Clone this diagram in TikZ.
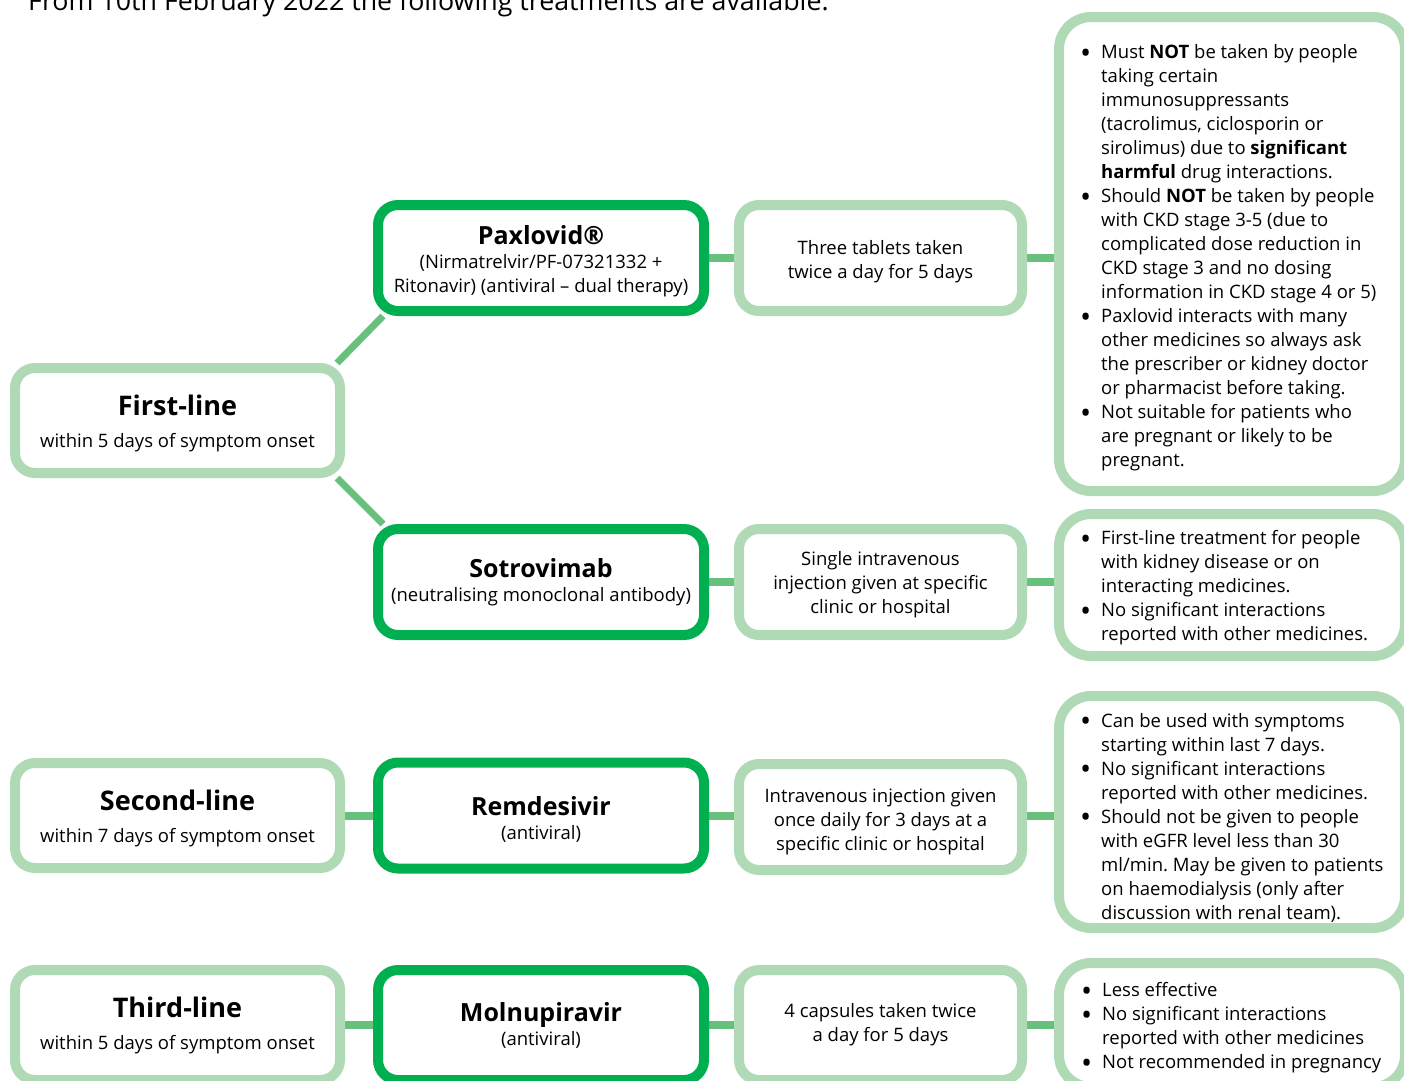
\documentclass[tikz,border=0pt]{standalone}
\usepackage{fontspec}
\setmainfont{Open Sans}
\usetikzlibrary{backgrounds}
\frenchspacing

\definecolor{darkg}{RGB}{0,176,80}
\definecolor{lightg}{RGB}{175,218,181}
\definecolor{midg}{RGB}{104,192,125}
\newcommand{\bodyf}{\fontsize{18.5}{24}\selectfont}
\newcommand{\drugf}{\fontsize{25}{30}\selectfont\bfseries}
\newcommand{\linef}{\fontsize{27}{32}\selectfont\bfseries}
\newcommand{\blt}{\leavevmode\llap{\raisebox{-4.5pt}{\scalebox{1.6}{\textbullet}}\hspace{10pt}}}
\newcommand{\topgap}[1]{\rule{0pt}{#1}}

\begin{document}
\begin{tikzpicture}[x=1pt,y=-1pt,
  linebox/.style={draw=lightg,line width=10pt,rounded corners=20pt,fill=white,
    minimum width=325pt,minimum height=105pt,align=center,font=\bodyf,inner sep=0pt},
  drugbox/.style={linebox,draw=darkg,minimum width=326pt,minimum height=106pt},
  dosebox/.style={linebox,minimum width=283pt,minimum height=106pt},
  notebox/.style={draw=lightg,line width=10pt,rounded corners=32pt,fill=white,
    minimum width=346pt},
  notetext/.style={align=left,font=\bodyf,inner sep=0pt,anchor=west},
  link/.style={draw=midg,line width=8pt}]
\useasboundingbox (0,0) rectangle (1404,1080);

\node[anchor=base west,inner sep=0pt,font=\fontsize{26.8}{32}\selectfont] (heading) at (28,10)
  {From 10th February 2022 the following treatments are available.};

% line of treatment
\node[linebox] (first) at (177.5,420.5) {\linef\topgap{25.5pt}First-line\\[8pt]within 5 days of symptom onset};
\node[linebox] (second) at (177.5,815.5) {\linef\topgap{25.5pt}Second-line\\[8pt]within 7 days of symptom onset};
\node[linebox,minimum height=110pt] (third) at (177.5,1025) {\linef Third-line\\[8pt]within 5 days of symptom onset};

% medicines
\node[drugbox] (pax) at (541,258) {\drugf\topgap{26pt}Paxlovid®\\(Nirmatrelvir/PF-07321332 +\\Ritonavir) (antiviral – dual therapy)};
\node[drugbox] (sot) at (541,582) {\drugf Sotrovimab\\(neutralising monoclonal antibody)};
\node[drugbox] (rem) at (541,815.5) {\drugf\topgap{26pt}Remdesivir\\(antiviral)};
\node[drugbox,minimum height=110pt] (mol) at (541,1025) {\drugf Molnupiravir\\(antiviral)};

% dosing
\node[dosebox] (paxdose) at (880.5,258) {\topgap{22pt}Three tablets taken\\twice a day for 5 days};
\node[dosebox] (sotdose) at (880.5,582) {\topgap{20pt}Single intravenous\\injection given at specific\\clinic or hospital};
\node[dosebox] (remdose) at (880.5,817) {\topgap{24pt}Intravenous injection given\\once daily for 3 days at a\\specific clinic or hospital};
\node[dosebox,minimum height=110pt] (moldose) at (880.5,1025) {4 capsules taken twice\\a day for 5 days};

% notes
\node[notebox,minimum height=474pt] (paxnote) at (1232,254) {};
\node[notebox,minimum height=142pt] (sotnote) at (1232,585) {};
\node[notebox,minimum height=232pt] (remnote) at (1232,812) {};
\node[notebox,minimum height=124pt] (molnote) at (1232,1025) {};

\node[notetext] (paxtext) at ([xshift=47pt,yshift=-4pt]paxnote.west) {%
  \blt Must \textbf{NOT} be taken by people\\
  taking certain\\
  immunosuppressants\\
  (tacrolimus, ciclosporin or\\
  sirolimus) due to \textbf{significant}\\
  \textbf{harmful} drug interactions.\\
  \blt Should \textbf{NOT} be taken by people\\
  with CKD stage 3-5 (due to\\
  complicated dose reduction in\\
  CKD stage 3 and no dosing\\
  information in CKD stage 4 or 5)\\
  \blt Paxlovid interacts with many\\
  other medicines so always ask\\
  the prescriber or kidney doctor\\
  or pharmacist before taking.\\
  \blt Not suitable for patients who\\
  are pregnant or likely to be\\
  pregnant.};
\node[notetext] (sottext) at ([xshift=47pt,yshift=-3pt]sotnote.west) {%
  \blt First-line treatment for people\\
  with kidney disease or on\\
  interacting medicines.\\
  \blt No significant interactions\\
  reported with other medicines.};
\node[notetext] (remtext) at ([xshift=47pt,yshift=-5.5pt]remnote.west) {%
  \blt Can be used with symptoms\\
  starting within last 7 days.\\
  \blt No significant interactions\\
  reported with other medicines.\\
  \blt Should not be given to people\\
  with eGFR level less than 30\\
  ml/min. May be given to patients\\
  on haemodialysis (only after\\
  discussion with renal team).};
\node[notetext] (moltext) at ([xshift=48pt,yshift=-3pt]molnote.west) {%
  \blt Less effective\\
  \blt No significant interactions\\
  reported with other medicines\\
  \blt Not recommended in pregnancy};

% connectors
\begin{scope}[on background layer]
\draw[link,line width=7pt] ([xshift=-8pt]first.north east) -- ([xshift=10pt]pax.south west);
\draw[link,line width=7pt] ([xshift=-8pt]first.south east) -- ([xshift=10pt]sot.north west);
\draw[link] (pax.east) -- (pax.east -| paxdose.west);
\draw[link] (paxdose.east) -- (paxdose.east -| paxnote.west);
\draw[link] (sot.east) -- (sot.east -| sotdose.west);
\draw[link] (sotdose.east) -- (sotdose.east -| sotnote.west);
\draw[link] (second.east) -- (second.east -| rem.west);
\draw[link] (rem.east) -- (rem.east -| remdose.west);
\draw[link] (rem.east -| remdose.east) -- (rem.east -| remnote.west);
\draw[link] (third.east) -- (third.east -| mol.west);
\draw[link] (mol.east) -- (mol.east -| moldose.west);
\draw[link] (moldose.east) -- (moldose.east -| molnote.west);
\end{scope}
\end{tikzpicture}
\end{document}
